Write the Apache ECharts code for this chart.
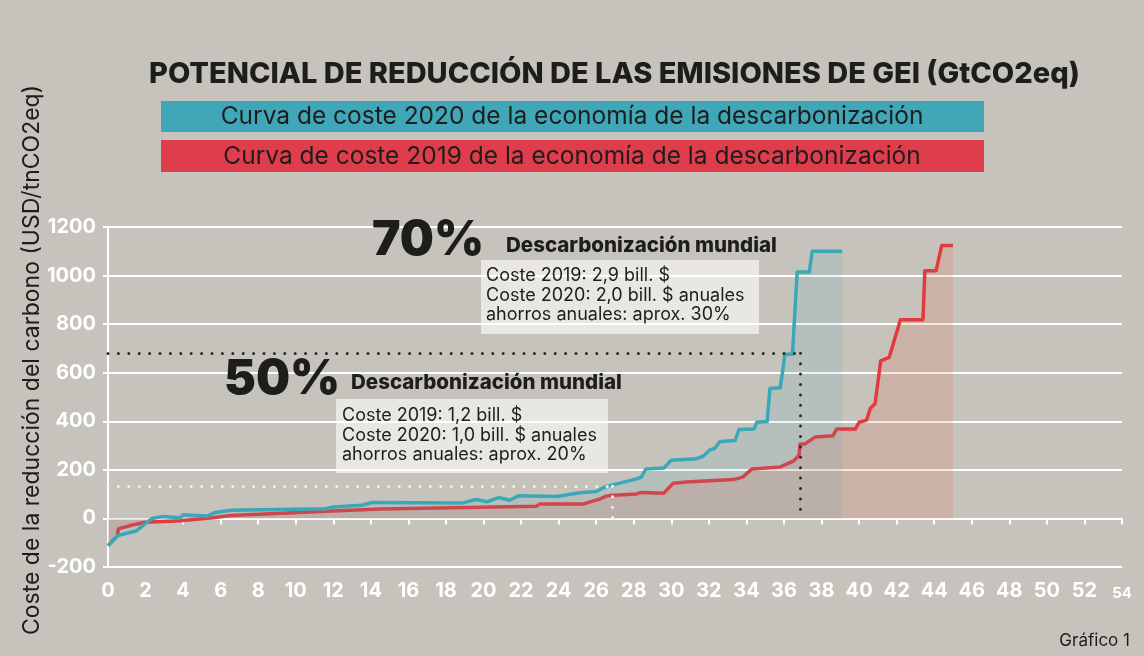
<!DOCTYPE html>
<html><head><meta charset="utf-8">
<script src="https://cdn.jsdelivr.net/npm/echarts@6/dist/echarts.min.js"></script>
<style>html,body{margin:0;padding:0;background:#c6c3bc}#c{width:1144px;height:656px}</style>
</head><body><div id="c"></div>
<script>
// ---- text ----
const titleText = 'POTENCIAL DE REDUCCIÓN DE LAS EMISIONES DE GEI (GtCO2eq)';
const seriesNames = [
  'Curva de coste 2020 de la economía de la descarbonización',
  'Curva de coste 2019 de la economía de la descarbonización'
];
const yAxisName = 'Coste de la reducción del carbono (USD/tnCO2eq)';
const footerText = 'Gráfico 1';
// ---- axes ----
const xRange = [0, 54];
const xStep = 2;
const yRange = [-200, 1200];
const yStep = 200;
// ---- curves [GtCO2eq, USD/tnCO2eq] ----
const curve2020 = [
  [0,-112],[0.5,-71],[1.5,-52],[1.85,-30],[2.35,0],[2.9,8],[3.85,3],[4.0,15],[5.3,10],[5.65,23],
  [6.5,34],[11.6,40],[12.0,47],[13.5,54],[14.1,66],[18.9,64],[19.6,78],[20.2,69],[20.8,86],[21.4,75],
  [21.85,93],[23.9,90],[25.1,106],[26.0,111],[26.55,132],[28.15,163],[28.4,170],[28.65,204],[29.6,208],[30.0,240],
  [31.35,246],[31.7,257],[32.05,282],[32.3,288],[32.6,317],[33.4,321],[33.6,366],[34.4,368],[34.55,396],[35.1,399],
  [35.25,535],[35.8,538],[36.05,676],[36.45,676],[36.7,1015],[37.35,1015],[37.5,1100],[39.1,1100]
];
const curve2019 = [
  [0,-112],[0.5,-72],[0.55,-43],[1.3,-27],[2.0,-16],[3.85,-10],[5.6,3],[6.5,12],[11.65,30],[14.5,39],
  [22.8,50],[23.0,59],[25.3,59],[25.85,72],[26.2,80],[26.5,91],[26.7,94],[28.15,101],[28.4,107],[29.6,104],
  [30.1,145],[30.8,150],[33.3,160],[33.8,170],[34.3,204],[35.8,212],[36.5,236],[36.8,260],[36.85,306],[37.1,306],
  [37.65,335],[38.6,340],[38.8,368],[39.8,368],[40.0,396],[40.4,405],[40.6,454],[40.85,472],[41.15,649],[41.6,663],
  [42.2,818],[43.4,818],[43.5,1020],[44.1,1020],[44.4,1124],[45.0,1124]
];
// ---- reference levels [x, y] ----
const level70 = [36.85, 680];
const level50 = [26.85, 132];
// ---- annotations ----
const pct = ['70%', '50%'];
const noteHead = 'Descarbonización mundial';
const note70 = ['Coste 2019: 2,9 bill. $', 'Coste 2020: 2,0 bill. $ anuales', 'ahorros anuales: aprox. 30%'];
const note50 = ['Coste 2019: 1,2 bill. $', 'Coste 2020: 1,0 bill. $ anuales', 'ahorros anuales: aprox. 20%'];

const TEAL = '#3ba8b8', RED = '#e23a3f', DARK = '#1d1d1b';
const FONT = 'Inter, "Noto Sans", sans-serif';

const chart = echarts.init(document.getElementById('c'), null, {renderer: 'canvas'});

function dotted(level, color) {
  return {
    silent: true, symbol: ['none', 'none'], animation: false,
    label: {show: false},
    lineStyle: {color: color, width: 3, type: [0, 10.4], cap: 'round', opacity: 1},
    emphasis: {disabled: true},
    data: [
      [{coord: [0, level[1]]}, {coord: [level[0], level[1]]}],
      [{coord: [level[0], level[1]]}, {coord: [level[0], 0]}]
    ]
  };
}

const boxText = (x, y, lines) => ({
  type: 'text', x: x, y: y, z: 10,
  style: {text: lines.join('\n'), font: '18px ' + FONT, fill: DARK, lineHeight: 19.5, textVerticalAlign: 'top'}
});

option = {
  backgroundColor: '#c6c3bc',
  animation: false,
  title: {
    text: titleText, left: 144, top: 55,
    textStyle: {fontFamily: FONT, fontWeight: 800, fontSize: 29, color: DARK}
  },
  grid: {left: 108, right: 22, top: 227, bottom: 89, containLabel: false, outerBoundsMode: 'none'},
  xAxis: {
    type: 'value', min: xRange[0], max: xRange[1], interval: xStep,
    axisLine: {show: true, onZero: true, lineStyle: {color: '#ffffff', width: 2}},
    axisTick: {show: true, length: 6, lineStyle: {color: '#ffffff', width: 2}},
    splitLine: {show: false},
    axisLabel: {
      margin: 14, color: '#ffffff', fontFamily: FONT, fontWeight: 700, fontSize: 20,
      formatter: v => v === xRange[1] ? '{s|' + v + '}' : String(v),
      rich: {s: {fontSize: 15, fontWeight: 700, color: '#ffffff', fontFamily: FONT, padding: [5, 0, 0, 0]}}
    }
  },
  yAxis: {
    type: 'value', min: yRange[0], max: yRange[1], interval: yStep,
    axisLine: {show: true, lineStyle: {color: '#ffffff', width: 2}},
    axisTick: {show: true, length: 5, lineStyle: {color: '#ffffff', width: 2}},
    splitLine: {show: true, lineStyle: {color: '#ffffff', width: 2}},
    axisLabel: {margin: 12, color: '#ffffff', fontFamily: FONT, fontWeight: 700, fontSize: 20, formatter: v => String(v)}
  },
  series: [{
    name: seriesNames[1], type: 'line', data: curve2019, z: 2,
    showSymbol: false, symbol: 'none',
    lineStyle: {color: RED, width: 3.5, join: 'round'},
    areaStyle: {color: 'rgba(226,78,40,0.2)', origin: 0},
    markLine: dotted(level50, '#f2f2f0')
  }, {
    name: seriesNames[0], type: 'line', data: curve2020, z: 3,
    showSymbol: false, symbol: 'none',
    lineStyle: {color: TEAL, width: 3.5, join: 'round'},
    areaStyle: {color: 'rgba(59,168,184,0.16)', origin: 0},
    markLine: dotted(level70, '#2a2a2a')
  }],
  graphic: [
    {type: 'text', z: 10, x: 32, y: 360, rotation: Math.PI / 2,
     style: {text: yAxisName, font: '23px ' + FONT, fill: DARK, textAlign: 'center', textVerticalAlign: 'middle'}},
    {type: 'rect', z: 5, shape: {x: 161, y: 101, width: 823, height: 31}, style: {fill: '#40a7b9'}},
    {type: 'text', z: 6, x: 572, y: 117, style: {text: seriesNames[0], font: '24.5px ' + FONT, fill: DARK, textAlign: 'center', textVerticalAlign: 'middle'}},
    {type: 'rect', z: 5, shape: {x: 161, y: 140, width: 823, height: 32}, style: {fill: '#e03d4c'}},
    {type: 'text', z: 6, x: 572, y: 157, style: {text: seriesNames[1], font: '24.5px ' + FONT, fill: DARK, textAlign: 'center', textVerticalAlign: 'middle'}},
    {type: 'text', z: 10, x: 372, y: 241, style: {text: pct[0], font: '900 48px ' + FONT, fill: DARK, textVerticalAlign: 'middle'}},
    {type: 'text', z: 10, x: 506, y: 246, style: {text: noteHead, font: '800 20.5px ' + FONT, fill: DARK, textVerticalAlign: 'middle'}},
    {type: 'rect', z: -1, shape: {x: 481, y: 260, width: 278, height: 74}, style: {fill: 'rgba(236,235,231,0.9)'}},
    boxText(486, 266, note70),
    {type: 'text', z: 10, x: 224, y: 380, style: {text: pct[1], font: '900 48px ' + FONT, fill: DARK, textVerticalAlign: 'middle'}},
    {type: 'text', z: 10, x: 351, y: 383, style: {text: noteHead, font: '800 20.5px ' + FONT, fill: DARK, textVerticalAlign: 'middle'}},
    {type: 'rect', z: -1, shape: {x: 336, y: 399, width: 272, height: 74}, style: {fill: 'rgba(236,235,231,0.9)'}},
    boxText(342, 406, note50),
    {type: 'text', z: 10, x: 1130, y: 641, style: {text: footerText, font: '17px ' + FONT, fill: DARK, textAlign: 'right', textVerticalAlign: 'middle'}}
  ]
};
chart.setOption(option);
</script>
</body></html>
